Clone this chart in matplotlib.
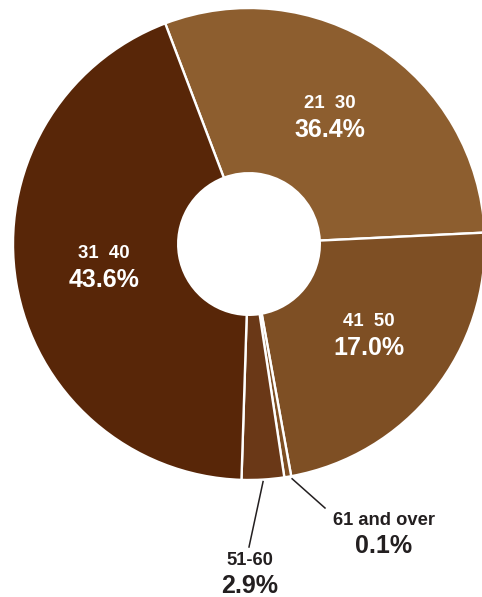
import numpy as np
import matplotlib
matplotlib.use('Agg')
import matplotlib.pyplot as plt

# age groups, clockwise from the top
groups = ['21  30', '41  50', '61 and over', '51-60', '31  40']
pct_labels = ['36.4%', '17.0%', '0.1%', '2.9%', '43.6%']
# wedge sizes as drawn in the reference (percent of the ring)
wedge_share = [30.0, 22.9, 0.47, 2.9, 43.7]
colors = ['#8D5E2F', '#7E4F24', '#7E4F24', '#6A3817', '#582608']

W, H = 482, 597
fig = plt.figure(figsize=(W / 100, H / 100), dpi=100)
ax = fig.add_axes([0, 0, 1, 1])
ax.set_xlim(0, W)
ax.set_ylim(0, H)
ax.set_aspect('equal')
ax.axis('off')

cx, cy = 249, H - 244
R = 236
start = 110.8

wedges, _ = ax.pie(wedge_share, colors=colors, startangle=start, counterclock=False,
                   radius=R, center=(cx, cy), frame=True,
                   wedgeprops=dict(width=R * 0.70, edgecolor='white', linewidth=1.7))
ax.set_xlim(0, W)
ax.set_ylim(0, H)
ax.axis('off')

font = ['Liberation Sans', 'DejaVu Sans']

# inside labels: (x, baseline y of group, baseline y of percent)
inside = {0: (330, 108, 137), 1: (369, 326, 355), 4: (104, 258, 287)}
for i, (x, yb1, yb2) in inside.items():
    ax.text(x, H - yb1, groups[i], ha='center', va='baseline', color='white',
            fontsize=13.4, fontweight='bold', family=font)
    ax.text(x, H - yb2, pct_labels[i], ha='center', va='baseline', color='white',
            fontsize=18, fontweight='bold', family=font)

# outside labels with leader lines
outside = {3: (250, 565, 593, (249, 547)), 2: (384, 525, 553, (325, 508))}
for i, (x, yb1, yb2, end) in outside.items():
    w = wedges[i]
    mid = np.deg2rad((w.theta1 + w.theta2) / 2)
    sx = cx + (R + 2) * np.cos(mid)
    sy = cy + (R + 2) * np.sin(mid)
    if i == 2:
        sx += 4
    ax.plot([sx, end[0]], [sy, H - end[1]], color='#231F20', lw=1.1)
    ax.text(x, H - yb1, groups[i], ha='center', va='baseline', color='#231F20',
            fontsize=13.2, fontweight='bold', family=font)
    ax.text(x, H - yb2, pct_labels[i], ha='center', va='baseline', color='#231F20',
            fontsize=18, fontweight='bold', family=font)

fig.savefig('out.png', dpi=100)
